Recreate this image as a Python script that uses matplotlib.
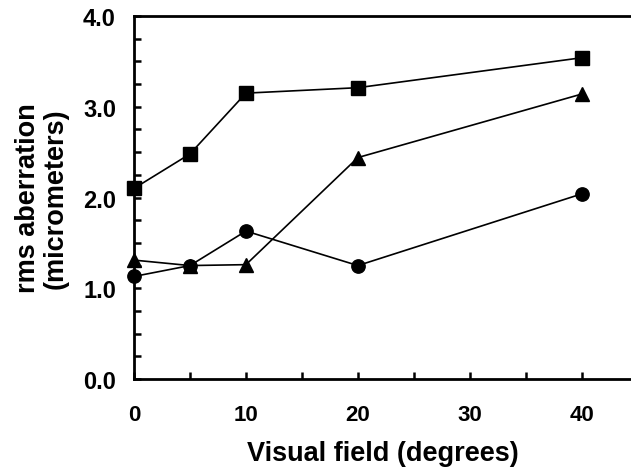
import matplotlib
matplotlib.use("Agg")
import matplotlib.pyplot as plt
from matplotlib.ticker import MultipleLocator

plt.rcParams['font.family'] = ['Liberation Sans', 'DejaVu Sans']
plt.rcParams['font.weight'] = 'bold'

field = [0, 5, 10, 20, 40]
squares = [2.10, 2.48, 3.15, 3.21, 3.54]
triangles = [1.31, 1.25, 1.26, 2.44, 3.14]
circles = [1.13, 1.25, 1.63, 1.25, 2.04]

xticks = [0, 10, 20, 30, 40]
yticks = [0.0, 1.0, 2.0, 3.0, 4.0]

fig = plt.figure(figsize=(6.31, 4.77), dpi=100)
ax = fig.add_axes([134/631, 1 - 380/477, 1 - 134/631, (380 - 17)/477])

ax.plot(field, squares, color='black', lw=1.2, marker='s', ms=9.6, clip_on=False, zorder=3)
ax.plot(field, triangles, color='black', lw=1.2, marker='^', ms=10.5, clip_on=False, zorder=3)
ax.plot(field, circles, color='black', lw=1.2, marker='o', ms=9.6, clip_on=False, zorder=3)

ax.set_xlim(0, 44.4)
ax.set_ylim(0, 4.0)
ax.set_xticks(xticks)
ax.set_xticklabels([str(t) for t in xticks])
ax.set_yticks(yticks)
ax.set_yticklabels([f"{t:.1f}" for t in yticks])
ax.xaxis.set_minor_locator(MultipleLocator(5))
ax.yaxis.set_minor_locator(MultipleLocator(0.25))

ax.tick_params(axis='both', which='both', direction='in', length=5, width=1.8)
ax.tick_params(axis='x', which='major', pad=18, labelsize=16)
ax.tick_params(axis='y', which='major', pad=13, labelsize=17)
ax.tick_params(which='both', top=False, right=False)

for s in ['left', 'bottom', 'top']:
    ax.spines[s].set_linewidth(2.0)
ax.spines['right'].set_visible(False)

ax.set_xlabel('Visual field (degrees)', fontsize=19.5, fontweight='bold', labelpad=11)
ax.set_ylabel('rms aberration\n(micrometers)', fontsize=19.5, fontweight='bold', labelpad=10,
              linespacing=1.1)

fig.savefig('out.png', dpi=100)
